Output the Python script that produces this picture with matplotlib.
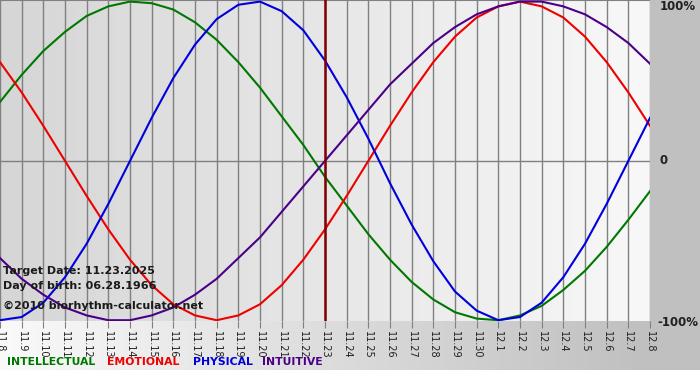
import numpy as np
import matplotlib
matplotlib.use("Agg")
import matplotlib.pyplot as plt
from matplotlib.colors import LinearSegmentedColormap

# days shown: 11.8 .. 12.8 (2025)
days = ["11.8", "11.9", "11.10", "11.11", "11.12", "11.13", "11.14", "11.15",
        "11.16", "11.17", "11.18", "11.19", "11.20", "11.21", "11.22", "11.23",
        "11.24", "11.25", "11.26", "11.27", "11.28", "11.29", "11.30", "12.1",
        "12.2", "12.3", "12.4", "12.5", "12.6", "12.7", "12.8"]

# values in percent, one per day
physical = [-100, -98, -89, -73, -52, -27, 0, 27, 52, 73, 89, 98, 100, 94, 82, 63,
            40, 14, -14, -40, -63, -82, -94, -100, -98, -89, -73, -52, -27, 0, 27]
emotional = [62, 43, 22, 0, -22, -43, -62, -78, -90, -97, -100, -97, -90, -78, -62, -43,
             -22, 0, 22, 43, 62, 78, 90, 97, 100, 97, 90, 78, 62, 43, 22]
intellectual = [37, 54, 69, 81, 91, 97, 100, 99, 95, 87, 76, 62, 46, 28, 10, -10,
                -28, -46, -62, -76, -87, -95, -99, -100, -97, -91, -81, -69, -54, -37, -19]
intuitive = [-61, -74, -84, -92, -97, -100, -100, -97, -92, -84, -74, -61, -48, -32, -16, 0,
             16, 32, 48, 61, 74, 84, 92, 97, 100, 100, 97, 92, 84, 74, 61]

target_idx = 15

W, H = 700, 380
fig = plt.figure(figsize=(W / 100, H / 100), dpi=100)
fig.patch.set_facecolor("white")

# background gradient outside the plot (white -> gray)
bg = fig.add_axes([0, 0, 1, 1])
bg.set_axis_off()
bg_cmap = LinearSegmentedColormap.from_list("bg", [(0, "#fafafa"), (0.92, "#c0c0c0"), (1, "#c0c0c0")])
grad = np.linspace(0, 1, 256).reshape(1, -1)
bg.imshow(grad, cmap=bg_cmap, aspect="auto", extent=[0, 1, 10 / H, 1])
bg.set_xlim(0, 1)
bg.set_ylim(0, 1)

# plot area
ax = fig.add_axes([0, (H - 321) / H, 650 / W, 321 / H])
x = np.arange(len(days))
ax.set_xlim(0, len(days) - 1)
ax.set_ylim(-100.5, 101)
area_cmap = LinearSegmentedColormap.from_list("area", ["#d6d6d6", "#f8f8f8"])
ax.imshow(grad, cmap=area_cmap, aspect="auto", extent=[0, len(days) - 1, -100.5, 101], zorder=0)

for xi in x:
    ax.axvline(xi, color="#808080", lw=1, zorder=1)
ax.axhline(0, color="#808080", lw=1, zorder=1)
ax.axhline(101, color="#808080", lw=1.5, zorder=1)

ax.plot(x, intellectual, color="#007800", lw=1.5, zorder=3)
ax.plot(x, emotional, color="#ee0000", lw=1.5, zorder=3)
ax.plot(x, physical, color="#0000dd", lw=1.5, zorder=3)
ax.plot(x, intuitive, color="#4b0088", lw=1.5, zorder=3)
ax.axvline(target_idx, color="#800000", lw=1.8, zorder=4)

for s in ax.spines.values():
    s.set_visible(False)
ax.set_yticks([])
ax.set_xticks(x)
ax.set_xticklabels(days, rotation=270, fontsize=7, color="#202020")
ax.tick_params(axis="x", length=5, color="#808080", pad=2)

fig.text(660 / W, 1 - 7 / H, "100%", fontsize=8.5, fontweight="bold", color="#202020", va="center")
fig.text(660 / W, 1 - 161 / H, "0", fontsize=8.5, fontweight="bold", color="#202020", va="center")
fig.text(657 / W, 1 - 322 / H, "-100%", fontsize=8.5, fontweight="bold", color="#202020", va="center")

info = dict(fontsize=8, fontweight="bold", color="#1a1a1a", va="center", zorder=5)
fig.text(3 / W, 1 - 271 / H, "Target Date: 11.23.2025", **info)
fig.text(3 / W, 1 - 286 / H, "Day of birth: 06.28.1966", **info)
fig.text(3 / W, 1 - 306 / H, "\u00a92010 biorhythm-calculator.net", **info)

leg = dict(fontsize=7.8, fontweight="bold", va="center")
fig.text(7 / W, 1 - 362 / H, "INTELLECTUAL", color="#007800", **leg)
fig.text(107 / W, 1 - 362 / H, "EMOTIONAL", color="#ee0000", **leg)
fig.text(193 / W, 1 - 362 / H, "PHYSICAL", color="#0000dd", **leg)
fig.text(262 / W, 1 - 362 / H, "INTUITIVE", color="#4b0088", **leg)

fig.savefig("out.png", dpi=100)
